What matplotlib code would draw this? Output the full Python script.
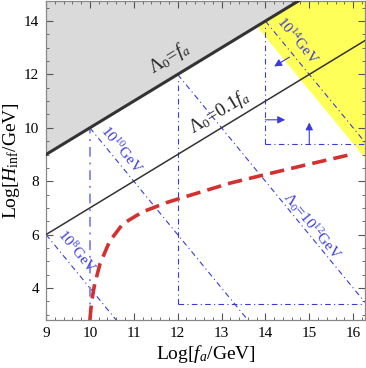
import numpy as np
import matplotlib
matplotlib.use("Agg")
import matplotlib.pyplot as plt

plt.rcParams['font.family'] = ['Liberation Serif', 'DejaVu Serif']
plt.rcParams['mathtext.fontset'] = 'custom'
plt.rcParams['mathtext.rm'] = 'Liberation Serif'
plt.rcParams['mathtext.it'] = 'Liberation Serif:italic'
plt.rcParams['mathtext.bf'] = 'Liberation Serif:bold'

# ---- data ----
x_range = [9.0, 16.27]
y_range = [2.8, 14.77]
lambda_exps = [8, 10, 12, 14]          # Log[Lambda0/GeV] for blue dash-dot lines
lambda_start_x = [9.0, 10.0, 12.0, 14.0]
ratio_offset = -1.0                    # Lambda0 = 0.1 f_a
yellow_intercept = 41.4                # yellow boundary: y = c - 2x
yellow_slope = -2.0
red_x = [10.0, 10.04, 10.11, 10.23, 10.45, 10.75, 11.2, 11.75, 12.1, 13.2, 14.0, 15.0, 16.0]
red_y = [2.8, 3.5, 4.15, 4.9, 5.75, 6.4, 6.85, 7.2, 7.38, 7.93, 8.25, 8.64, 9.02]
box12 = dict(x=12.0, y=3.4)
box14 = dict(x=14.0, y=9.4)
x_ticks = [9, 10, 11, 12, 13, 14, 15, 16]
y_ticks = [4, 6, 8, 10, 12, 14]

blue = '#3a3ad8'
lblue = '#8c8cf0'

fig = plt.figure(figsize=(3.66, 3.68), dpi=100)
ax = fig.add_axes([46/366, 48/368, 319/366, 319.5/368])
ax.set_xlim(*x_range)
ax.set_ylim(*y_range)

xs = np.linspace(x_range[0], x_range[1], 200)
# grey region above Lambda0 = f_a
ax.fill_between(xs, xs, y_range[1] + 1, color='#dadada', lw=0, zorder=0)
# yellow region
yb = yellow_intercept + yellow_slope * xs
ax.fill_between(xs, np.maximum(yb, y_range[0]), xs, where=yb < xs, color='#ffff5a', lw=0, zorder=0)

# Lambda0 = f_a (thick), Lambda0 = 0.1 f_a (thin)
ax.plot(xs, xs, color='#333333', lw=2.2, zorder=3)
ax.plot(xs, xs + ratio_offset * 3, color='#333333', lw=1.1, zorder=3)

# constant Lambda0 lines: y = 3L - 2x
ls_dd = (0, (5, 3, 1, 3))
for L, x0 in zip(lambda_exps, lambda_start_x):
    xl = np.linspace(x0, x_range[1], 100)
    ax.plot(xl, 3 * L - 2 * xl, color=blue, lw=0.8, ls=ls_dd, zorder=2)

# vertical/horizontal dash-dot lines
ax.plot([10, 10], [y_range[0], 10], color=lblue, lw=1.4, ls=(0, (5, 3, 1, 3)), zorder=2)
ax.plot([box12['x'], box12['x']], [box12['y'], 11.85], color=blue, lw=0.8, ls=ls_dd, zorder=2)
ax.plot([box12['x'], x_range[1]], [box12['y'], box12['y']], color=blue, lw=0.8, ls=ls_dd, zorder=2)
ax.plot([box14['x'], box14['x']], [box14['y'], 13.9], color=blue, lw=0.8, ls=ls_dd, zorder=2)
ax.plot([box14['x'], x_range[1]], [box14['y'], box14['y']], color=blue, lw=0.8, ls=ls_dd, zorder=2)

# arrows
ap = dict(arrowstyle='-|>', color=blue, lw=0.8, mutation_scale=11, shrinkA=0, shrinkB=0)
ax.annotate('', xy=(14.45, 10.3), xytext=(14.0, 10.3), arrowprops=ap, zorder=4)
ax.annotate('', xy=(15.0, 10.2), xytext=(15.0, 9.4), arrowprops=ap, zorder=4)
ax.annotate('', xy=(14.2, 12.3), xytext=(14.55, 12.65), arrowprops=ap, zorder=4)

# red dashed curve
ax.plot(red_x, red_y, color='#d33030', lw=2.6, ls=(0, (4, 2)), zorder=4)

fig.canvas.draw()
def ang(slope):
    p0 = ax.transData.transform((12, 8))
    p1 = ax.transData.transform((13, 8 + slope))
    return np.degrees(np.arctan2(p1[1] - p0[1], p1[0] - p0[0]))
a1 = ang(1.0)
a2 = ang(-2.0)

tk = dict(ha='center', va='center', rotation_mode='anchor', zorder=5)
ax.text(11.8, 12.6, r'$\Lambda_0$=$f_a$', rotation=a1, fontsize=13.5, color='#222222', **tk)
ax.text(12.95, 10.6, r'$\Lambda_0$=0.1$f_a$', rotation=a1, fontsize=13.5, color='#222222', **tk)
ax.text(10.73, 9.2, r'$10^{10}$GeV', rotation=a2, fontsize=11, color=blue, **tk)
ax.text(9.7, 5.35, r'$10^{8}$GeV', rotation=a2, fontsize=11, color=blue, **tk)
ax.text(14.73, 13.25, r'$10^{14}$GeV', rotation=a2, fontsize=11, color=blue, **tk)
ax.text(15.07, 6.32, r'$\Lambda_0$=$10^{12}$GeV', rotation=a2, fontsize=11, color=blue, **tk)

ax.set_xticks(x_ticks)
ax.set_yticks(y_ticks)
ax.set_xticks(np.arange(9, 16.3, 0.2), minor=True)
ax.set_yticks(np.arange(3, 14.8, 0.5), minor=True)
ax.tick_params(which='both', direction='in', top=True, right=True, colors='#555555', labelcolor='black', labelsize=11)
ax.tick_params(which='major', length=5, width=0.8, pad=5)
ax.tick_params(which='minor', length=2.5, width=0.6)
for s in ax.spines.values():
    s.set_color('#888888')
    s.set_linewidth(0.9)

ax.set_xlabel('Log[$f_a$/GeV]', fontsize=14, labelpad=2)
ax.set_ylabel(r'Log[$H_{\mathrm{inf}}$/GeV]', fontsize=14, labelpad=1)

fig.savefig('out.png', dpi=100)
